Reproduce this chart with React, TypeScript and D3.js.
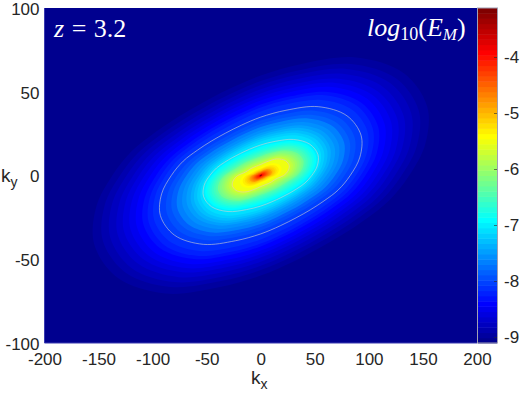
import React, { useEffect, useRef } from 'react';
import * as d3 from 'd3';

// log10(E_M) iso-levels, with the half extents of each level (in k units)
const levels = [
  -9.0, -8.9, -8.8, -8.7, -8.6, -8.5, -8.4, -8.3, -8.2, -8.1,
  -8.0, -7.9, -7.8, -7.7, -7.6, -7.5, -7.4, -7.3, -7.2, -7.1,
  -7.0, -6.9, -6.8, -6.7, -6.6, -6.5, -6.4, -6.3, -6.2, -6.1,
  -6.0, -5.9, -5.8, -5.7, -5.6, -5.5, -5.4, -5.3, -5.2, -5.1,
  -5.0, -4.9, -4.8, -4.7, -4.6, -4.5, -4.4, -4.3, -4.2, -4.1,
  -4.0, -3.9, -3.8, -3.7, -3.6, -3.5, -3.4, -3.3, -3.2,
];
const halfKx = [
  156, 148, 141, 134, 128, 122, 116, 110, 105, 100,
  94, 88, 83, 78, 73, 69, 65, 62, 59, 56,
  53.6, 51.5, 49.5, 47.5, 45.5, 43.5, 41.5, 39.5, 37.5, 35.5,
  33.5, 31.5, 29.5, 27.5, 26.5, 26, 19, 16.5, 14.5, 13,
  11.5, 10.2, 9, 8, 7, 6.2, 5.4, 4.6, 3.8, 2.9,
  2, 1.5, 1.2, 1, 0.9, 0.8, 0.7, 0.6, 0.5,
];
const halfKy = [
  72, 68, 65, 62, 59, 56.5, 54, 51, 49, 46,
  42, 39.5, 37, 34.8, 32.5, 30.5, 29, 27.5, 26, 24.5,
  22, 21, 20, 19, 18.1, 17.2, 16.3, 15.4, 14.5, 13.7,
  12.9, 12.1, 11.3, 10.7, 10.3, 10, 7.4, 6.4, 5.6, 5,
  4.4, 3.9, 3.4, 3, 2.7, 2.4, 2.1, 1.8, 1.5, 1.1,
  0.8, 0.7, 0.6, 0.55, 0.5, 0.45, 0.42, 0.4, 0.35,
];
const contourLevels = [-8.0, -7.0, -5.5];

// radius of a level at 0, 15, ... 165 degrees (the other half is point symmetric), relative to its half extents
const outerShape = [0.88, 1.01, 1.14, 1.2, 1.13, 0.96, 0.83, 0.74, 0.695, 0.69, 0.72, 0.79];
const coreShape = [0.82, 1.0, 1.17, 1.25, 1.14, 0.85, 0.66, 0.58, 0.55, 0.54, 0.55, 0.62];

const xTicks = [-200, -150, -100, -50, 0, 50, 100, 150, 200];
const yTicks = [-100, -50, 0, 50, 100];
const colorTicks = [-9, -8, -7, -6, -5, -4];

const width = 526;
const height = 395;
const left = 44.5;
const right = 477;
const top = 8;
const bottom = 343;
const barLeft = 478;
const barRight = 497;
const ink = '#262626';
const sans = '"Liberation Sans", Arial, sans-serif';
const serif = '"Liberation Serif", "DejaVu Serif", serif';

const App = () => {
  const ref = useRef<SVGSVGElement>(null);

  useEffect(() => {
    const svg = d3.select(ref.current);
    svg.selectAll('*').remove();

    const x = d3.scaleLinear().domain([-200, 200]).range([left, right]);
    const y = d3.scaleLinear().domain([-100, 100]).range([bottom, top]);
    const cb = d3.scaleLinear().domain([-9.107, -3.125]).range([bottom, top]);

    // MATLAB jet, 64 steps
    const jet = d3.scaleLinear<string>()
      .domain([0, 7, 23, 39, 55, 63])
      .range(['#00008f', '#0000ff', '#00ffff', '#ffff00', '#ff0000', '#800000']);
    const colors = d3.range(64).map(i => jet(i));
    const color = d3.scaleQuantize<string>().domain(cb.domain() as [number, number]).range(colors);

    const mix = d3.scaleLinear().domain([-7, -5.5]).range([0, 1]).clamp(true);

    const outline = (level: number) => {
      const i = levels.indexOf(level);
      const m = mix(level);
      const radii = outerShape.map((r, j) => r + (coreShape[j] - r) * m);
      const line = d3.line<number>()
        .x(j => x(halfKx[i] * radii[j % 12] * Math.cos((j * Math.PI) / 12)))
        .y(j => y(halfKy[i] * radii[j % 12] * Math.sin((j * Math.PI) / 12)))
        .curve(d3.curveCatmullRomClosed);
      return line(d3.range(24));
    };

    // the map
    svg.append('rect')
      .attr('x', left).attr('y', top)
      .attr('width', right - left).attr('height', bottom - top)
      .attr('fill', colors[0]);

    svg.append('g').selectAll('path')
      .data(levels)
      .join('path')
      .attr('d', d => outline(d))
      .attr('fill', d => color(d));

    svg.append('g').selectAll('path')
      .data(contourLevels)
      .join('path')
      .attr('d', d => outline(d))
      .attr('fill', 'none')
      .attr('stroke', '#d0d0d0')
      .attr('stroke-opacity', 0.75)
      .attr('stroke-width', 0.8);

    // colour bar
    const step = (cb.domain()[1] - cb.domain()[0]) / 64;
    svg.append('g').selectAll('rect')
      .data(colors)
      .join('rect')
      .attr('x', barLeft)
      .attr('width', barRight - barLeft)
      .attr('y', (d, i) => cb(cb.domain()[0] + (i + 1) * step))
      .attr('height', cb(0) - cb(step) + 0.5)
      .attr('fill', d => d);

    svg.append('rect')
      .attr('x', barLeft - 0.5).attr('y', top)
      .attr('width', barRight - barLeft + 1).attr('height', bottom - top)
      .attr('fill', 'none')
      .attr('stroke', '#a0a0b4')
      .attr('stroke-width', 1);

    // axes box
    svg.append('path')
      .attr('d', `M${left},${top}V${bottom}H${right}`)
      .attr('fill', 'none')
      .attr('stroke', '#3a3ab0')
      .attr('stroke-width', 1);

    const styleAxis = (g: any) => {
      g.select('.domain').remove();
      g.selectAll('text').attr('font-family', sans).attr('font-size', 17).attr('fill', ink);
    };

    svg.append('g')
      .attr('transform', `translate(0,${bottom})`)
      .call(d3.axisBottom(x).tickValues(xTicks).tickSize(0).tickPadding(10).tickFormat(d => String(d)) as any)
      .call(styleAxis);

    svg.append('g')
      .attr('transform', `translate(${left},1)`)
      .call(d3.axisLeft(y).tickValues(yTicks).tickSize(0).tickPadding(5).tickFormat(d => String(d)) as any)
      .call(styleAxis);

    const barAxis = svg.append('g')
      .attr('transform', `translate(${barRight},0)`)
      .call(d3.axisRight(cb).tickValues(colorTicks).tickSize(0).tickPadding(7).tickFormat(d => String(d)) as any)
      .call(styleAxis);
    barAxis.selectAll('line').attr('x2', -3).attr('stroke', ink).attr('stroke-width', 0.6);

    // axis titles
    const title = (px: number, py: number, sub: string) => {
      const t = svg.append('text')
        .attr('x', px).attr('y', py)
        .attr('font-family', sans).attr('font-size', 19).attr('fill', ink);
      t.append('tspan').text('k');
      t.append('tspan').attr('dy', 5).attr('font-size', 14).text(sub);
    };
    title(251, 384, 'x');
    title(1, 182, 'y');

    // annotations
    const zLabel = svg.append('text')
      .attr('x', 54).attr('y', 37)
      .attr('font-family', serif).attr('font-size', 26).attr('fill', 'white');
    zLabel.append('tspan').attr('font-style', 'italic').text('z');
    zLabel.append('tspan').attr('word-spacing', 1).text(' = 3.2');

    const eLabel = svg.append('text')
      .attr('x', 367).attr('y', 36)
      .attr('font-family', serif).attr('font-size', 26).attr('fill', 'white');
    eLabel.append('tspan').attr('font-style', 'italic').text('log');
    eLabel.append('tspan').attr('dy', 4).attr('font-size', 18).text('10');
    eLabel.append('tspan').attr('dy', -4).text('(');
    eLabel.append('tspan').attr('font-style', 'italic').text('E');
    eLabel.append('tspan').attr('dy', 4).attr('font-size', 17).attr('font-style', 'italic').text('M');
    eLabel.append('tspan').attr('dy', -4).text(')');
  }, []);

  return <svg ref={ref} width={width} height={height} style={{ position: 'absolute', left: 0, top: 0, background: 'white' }} />;
};

export default App;
